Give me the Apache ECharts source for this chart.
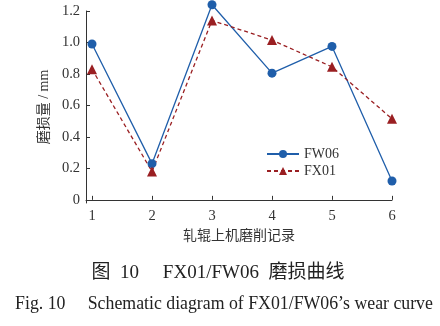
<!DOCTYPE html>
<html><head><meta charset="utf-8">
<script src="https://cdn.jsdelivr.net/npm/echarts@6/dist/echarts.min.js"></script>
<style>html,body{margin:0;padding:0;background:#fff}#c{width:440px;height:326px}</style>
</head><body><div id="c"></div>
<script>
const records = [1, 2, 3, 4, 5, 6];
const fw06 = [0.99, 0.23, 1.24, 0.805, 0.975, 0.12];
const fx01 = [0.83, 0.18, 1.14, 1.015, 0.845, 0.515];
const yTicks = [0, 0.2, 0.4, 0.6, 0.8, 1.0, 1.2];
const xTicks = [1, 2, 3, 4, 5, 6];

const serif = '"Liberation Serif", "Times New Roman", "Noto Sans CJK SC", serif';
const cjk = '"Liberation Serif", "Noto Sans CJK SC", serif';
const chart = echarts.init(document.getElementById('c'), null, {renderer: 'canvas'});
chart.setOption({
  animation: false,
  backgroundColor: '#fff',
  grid: {left: 86, right: 48, top: 11, bottom: 123, containLabel: false},
  title: [
    {text: '图  10     FX01/FW06  磨损曲线', left: 213, textAlign: 'center', top: 259,
     textStyle: {fontFamily: cjk, fontSize: 19, fontWeight: 'normal', color: '#222'}},
    {text: 'Fig. 10     Schematic diagram of FX01/FW06\u2019s wear curve', left: 219, textAlign: 'center', top: 290,
     textStyle: {fontFamily: serif, fontSize: 17.8, fontWeight: 'normal', color: '#222'}}
  ],
  legend: {
    left: 261, top: 142, orient: 'vertical', itemWidth: 32, itemHeight: 10, itemGap: 3,
    textStyle: {fontFamily: serif, fontSize: 14, color: '#333'},
    data: ['FW06', 'FX01']
  },
  xAxis: {
    type: 'value', min: 0.9, max: 6,
    name: '轧辊上机磨削记录', nameLocation: 'middle', nameGap: 26,
    nameTextStyle: {fontFamily: cjk, fontSize: 14, color: '#333'},
    axisLine: {lineStyle: {color: '#333', width: 1}},
    axisTick: {inside: true, length: 4, customValues: xTicks, lineStyle: {color: '#333'}},
    axisLabel: {customValues: xTicks, fontFamily: serif, fontSize: 14.5, color: '#333', margin: 6},
    splitLine: {show: false}
  },
  yAxis: {
    type: 'value', min: -0.02, max: 1.2,
    name: '磨损量 / mm', nameLocation: 'middle', nameGap: 32,
    nameTextStyle: {fontFamily: cjk, fontSize: 14, color: '#333'},
    axisLine: {show: true, lineStyle: {color: '#333', width: 1}},
    axisTick: {show: true, inside: true, length: 4, customValues: yTicks, lineStyle: {color: '#333'}},
    axisLabel: {customValues: yTicks, fontFamily: serif, fontSize: 14.5, color: '#333', margin: 6,
      formatter: v => (Math.abs(v) < 1e-9 ? '0' : v.toFixed(1))},
    splitLine: {show: false}
  },
  series: [
    {name: 'FW06', type: 'line', data: records.map((r, i) => [r, fw06[i]]), clip: false,
     symbol: 'circle', symbolSize: 9, color: '#1f5eaa',
     lineStyle: {width: 1.3, color: '#1f5eaa'}, itemStyle: {color: '#1f5eaa'}},
    {name: 'FX01', type: 'line', data: records.map((r, i) => [r, fx01[i]]), clip: false,
     symbol: 'triangle', symbolSize: 10, color: '#9a1f22',
     lineStyle: {width: 1.3, type: [4, 3], color: '#9a1f22'}, itemStyle: {color: '#9a1f22'}}
  ]
});
</script></body></html>
